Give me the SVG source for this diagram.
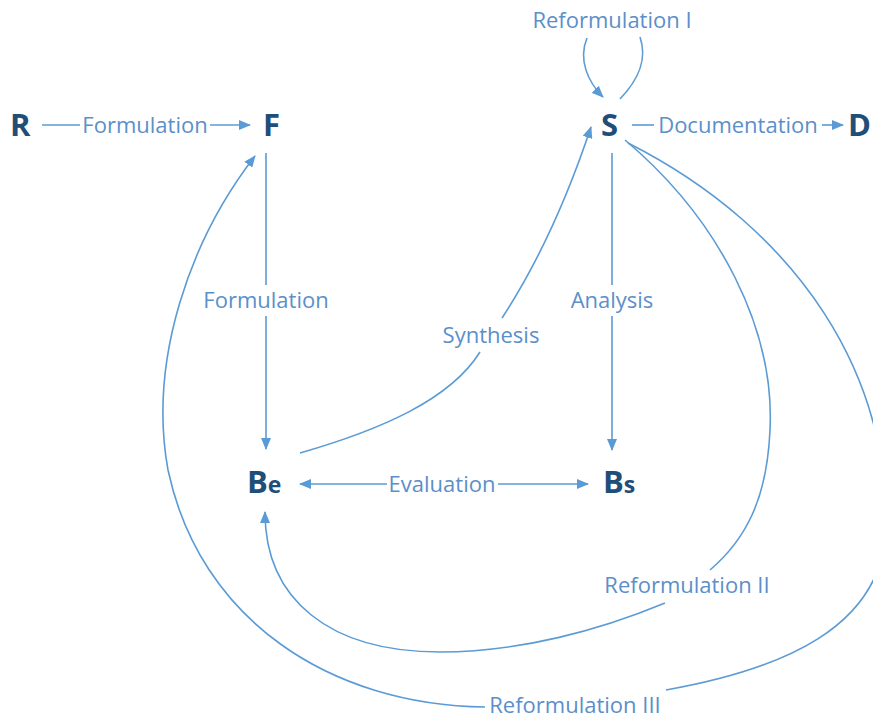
<svg xmlns="http://www.w3.org/2000/svg" width="873" height="718" viewBox="0 0 873 718">
<style>
.e{fill:none;stroke:#5b9bd5;stroke-width:1.6}
.a{marker-end:url(#ah)}
.lb{font-family:"Open Sans","Noto Sans",sans-serif;font-size:22px;fill:#5b8fc9;text-anchor:middle}
.nd{font-family:"Open Sans","Noto Sans",sans-serif;font-weight:bold;font-size:31px;fill:#1f4e79}
.sm{font-size:23px}
</style>
<defs>
<marker id="ah" markerWidth="12" markerHeight="10" refX="11" refY="5" orient="auto" markerUnits="userSpaceOnUse">
<path d="M0,0 L12,5 L0,10 Z" fill="#5b9bd5"/>
</marker>
</defs>
<g id="connectors">
<path class="e" d="M42 125 H80"/>
<path class="e a" d="M210 125 H250"/>
<path class="e" d="M632 125 H654"/>
<path class="e a" d="M822 125 H843"/>
<path class="e a" d="M587 38 C578 60, 588 82, 603 97"/>
<path class="e" d="M640 37 C648 60, 638 80, 620 99"/>
<path class="e" d="M266 153 V285"/>
<path class="e a" d="M266 316 V449"/>
<path class="e" d="M612 153 V285"/>
<path class="e a" d="M612 316 V450"/>
<path class="e a" d="M387 484 H300"/>
<path class="e a" d="M498 484 H588"/>
<path class="e" d="M300 453 C380 430, 450 400, 480 352"/>
<path class="e a" d="M502 318 C540 260, 570 190, 591 127"/>
<path class="e" d="M625 140 C720 220, 775 330, 770 430 C767 500, 745 540, 710 570"/>
<path class="e a" d="M665 603 C600 630, 520 652, 440 652 C330 652, 265 600, 265 512"/>
<path class="e" d="M628 143 C800 230, 895 380, 885 540 C875 625, 790 668, 666 690"/>
<path class="e a" d="M485 707 C330 705, 200 620, 168 470 C148 360, 190 240, 255 156"/>
</g>
<g id="labels">
<text class="lb" x="145" y="133">Formulation</text>
<text class="lb" x="612" y="28">Reformulation I</text>
<text class="lb" x="738" y="133">Documentation</text>
<text class="lb" x="266" y="308">Formulation</text>
<text class="lb" x="612" y="308">Analysis</text>
<text class="lb" x="491" y="343">Synthesis</text>
<text class="lb" x="442" y="492">Evaluation</text>
<text class="lb" x="687" y="593">Reformulation II</text>
<text class="lb" x="575" y="713">Reformulation III</text>
</g>
<g id="node-R"><text class="nd" x="10" y="136">R</text></g>
<g id="node-F"><text class="nd" x="263" y="136">F</text></g>
<g id="node-S"><text class="nd" x="601" y="136">S</text></g>
<g id="node-D"><text class="nd" x="848" y="136">D</text></g>
<g id="node-Be"><text class="nd" x="247" y="493">B<tspan class="sm">e</tspan></text></g>
<g id="node-Bs"><text class="nd" x="603" y="493">B<tspan class="sm">s</tspan></text></g>
</svg>
